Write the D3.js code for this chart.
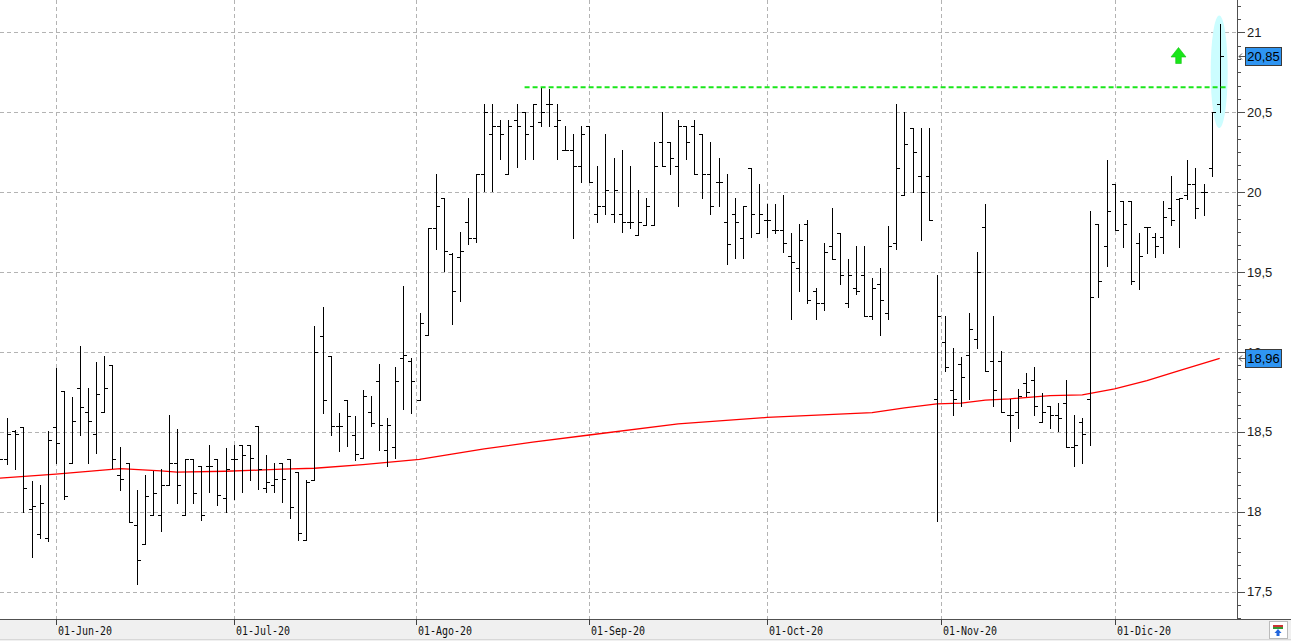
<!DOCTYPE html>
<html><head><meta charset="utf-8">
<script src="https://d3js.org/d3.v7.min.js"></script>
<style>html,body{margin:0;padding:0;background:#fff;overflow:hidden}</style>
</head><body>
<svg id="c" width="1291" height="641"></svg>
<script>
const dates = [
"2020-05-21","2020-05-22","2020-05-25","2020-05-26","2020-05-27","2020-05-28","2020-05-29",
"2020-06-01","2020-06-02","2020-06-03","2020-06-04","2020-06-05","2020-06-08","2020-06-09","2020-06-10","2020-06-11","2020-06-12",
"2020-06-15","2020-06-16","2020-06-17","2020-06-18","2020-06-19","2020-06-22","2020-06-23","2020-06-24","2020-06-25","2020-06-26","2020-06-29","2020-06-30",
"2020-07-01","2020-07-02","2020-07-03","2020-07-06","2020-07-07","2020-07-08","2020-07-09","2020-07-10","2020-07-13","2020-07-14","2020-07-15","2020-07-16","2020-07-17",
"2020-07-20","2020-07-21","2020-07-22","2020-07-23","2020-07-24","2020-07-27","2020-07-28","2020-07-29","2020-07-30","2020-07-31",
"2020-08-03","2020-08-04","2020-08-05","2020-08-06","2020-08-07","2020-08-10","2020-08-11","2020-08-12","2020-08-13","2020-08-14",
"2020-08-17","2020-08-18","2020-08-19","2020-08-20","2020-08-21","2020-08-24","2020-08-25","2020-08-26","2020-08-27","2020-08-28","2020-08-31",
"2020-09-01","2020-09-02","2020-09-03","2020-09-04","2020-09-07","2020-09-08","2020-09-09","2020-09-10","2020-09-11","2020-09-14","2020-09-15",
"2020-09-16","2020-09-17","2020-09-18","2020-09-21","2020-09-22","2020-09-23","2020-09-24","2020-09-25","2020-09-28","2020-09-29","2020-09-30",
"2020-10-01","2020-10-02","2020-10-05","2020-10-06","2020-10-07","2020-10-08","2020-10-09","2020-10-12","2020-10-13","2020-10-14","2020-10-15",
"2020-10-16","2020-10-19","2020-10-20","2020-10-21","2020-10-22","2020-10-23","2020-10-26","2020-10-27","2020-10-28","2020-10-29","2020-10-30",
"2020-11-02","2020-11-03","2020-11-04","2020-11-05","2020-11-06","2020-11-09","2020-11-10","2020-11-11","2020-11-12","2020-11-13",
"2020-11-16","2020-11-17","2020-11-18","2020-11-19","2020-11-20","2020-11-23","2020-11-24","2020-11-25","2020-11-26","2020-11-27","2020-11-30",
"2020-12-01","2020-12-02","2020-12-03","2020-12-04","2020-12-07","2020-12-08","2020-12-09","2020-12-10","2020-12-11","2020-12-14","2020-12-15",
"2020-12-16","2020-12-17","2020-12-18"];

const open = [18.40,18.33,18.506,18.53,18.017,17.86,17.835,
18.529,18.754,18.304,18.773,18.625,18.485,18.623,18.919,18.231,18.306,
17.919,17.798,17.977,17.981,18.167,18.304,17.977,18.328,18.287,18.287,18.328,18.084,
18.328,18.418,18.418,18.538,18.146,18.165,18.303,18.328,18.247,17.824,18.201,19.10,18.975,
18.536,18.699,18.48,18.333,18.621,18.821,18.383,18.404,18.959,18.943,
18.702,19.103,19.776,19.963,19.613,19.594,19.811,19.711,20.112,20.364,
20.414,20.112,20.452,20.50,20.4125,20.44,20.55,20.4125,20.2625,20.2625,20.1625,
20.4125,19.8625,19.9125,19.8625,19.8625,19.8125,19.731,19.794,19.794,20.315,20.315,
20.1625,20.4125,20.4125,20.365,20.1125,20.0625,19.8125,19.8625,19.7125,20.15,19.744,
19.825,19.7625,19.7625,19.602,19.525,19.80,19.381,19.306,19.6625,19.744,19.306,
19.40,19.481,19.223,19.425,19.244,19.681,19.98,20.40,20.10,20.10,18.706,
19.0625,18.7625,18.925,18.981,19.083,19.783,18.946,18.946,18.606,18.623,
18.808,18.827,18.5625,18.6625,18.604,18.679,18.406,18.56,18.706,19.80,19.661,
20.051,19.943,19.943,19.68,19.78,19.722,19.722,19.899,19.957,19.98,20.051,
19.999,20.151,20.549];

const high = [18.50,18.585,18.51,18.53,18.19,18.17,18.506,
18.902,18.756,18.719,19.0375,18.775,18.9375,18.975,18.919,18.406,18.306,
18.135,18.231,18.252,18.269,18.604,18.52,18.328,18.328,18.287,18.418,18.328,18.40,
18.418,18.418,18.418,18.538,18.356,18.303,18.303,18.328,18.247,18.199,19.159,19.278,18.975,
18.619,18.699,18.60,18.761,18.723,18.924,18.588,18.905,19.412,18.963,
19.243,19.776,20.114,19.963,19.621,19.75,19.963,20.112,20.552,20.552,
20.452,20.452,20.552,20.50,20.552,20.656,20.644,20.552,20.4125,20.365,20.4125,
20.4125,20.1625,20.365,20.2125,20.2625,20.1625,20.0125,19.9625,20.315,20.50,20.315,
20.45,20.4125,20.45,20.365,20.3125,20.2125,20.1125,19.9625,19.9125,20.15,20.05,
19.927,19.927,19.98,19.744,19.802,19.827,19.402,19.681,19.902,19.744,19.581,
19.665,19.665,19.4625,19.525,19.785,20.55,20.50,20.40,20.40,20.40,19.483,
19.227,19.027,18.965,19.246,19.627,19.927,19.227,19.006,18.706,18.765,
18.865,18.908,18.744,18.6625,18.679,18.825,18.606,18.587,19.882,19.80,20.201,
20.051,19.943,19.943,19.745,19.78,19.742,19.945,20.101,19.961,20.201,20.151,
20.051,20.50,21.05];

const low = [18.25,18.30,18.265,17.996,17.715,17.835,17.815,
18.302,18.079,18.304,18.483,18.302,18.365,18.623,18.271,18.135,17.933,
17.548,17.798,17.977,17.877,18.167,18.052,17.977,18.052,17.95,18.126,18.044,18.00,
18.079,18.126,18.199,18.144,18.126,18.126,18.063,17.962,17.824,17.824,18.201,18.615,18.477,
18.377,18.414,18.326,18.333,18.538,18.383,18.287,18.337,18.64,18.619,
18.702,19.103,19.646,19.508,19.176,19.32,19.673,19.69,20.009,20.009,
20.21,20.112,20.16,20.21,20.21,20.4125,20.4125,20.21,20.2625,19.7125,20.0625,
20.0625,19.8125,19.8625,19.8125,19.748,19.775,19.731,19.794,19.794,20.1625,20.1125,
19.9125,20.21,20.1125,19.96,19.86,19.91,19.55,19.59,19.59,19.72,19.744,
19.72,19.744,19.623,19.204,19.379,19.306,19.204,19.26,19.581,19.423,19.281,
19.36,19.223,19.204,19.104,19.204,19.644,19.98,20.00,19.698,19.825,17.94,
18.879,18.604,18.6625,18.706,19.025,18.879,18.6625,18.623,18.442,18.523,
18.727,18.604,18.5625,18.523,18.502,18.406,18.283,18.303,18.42,19.342,19.54,
19.761,19.659,19.423,19.396,19.621,19.596,19.621,19.797,19.659,19.959,19.84,
19.859,20.099,20.50];

const close = [18.33,18.485,18.485,18.148,18.037,18.054,18.45,
18.429,18.10,18.569,18.654,18.569,18.7375,18.773,18.331,18.206,17.933,
17.698,18.10,18.117,18.167,18.304,18.165,18.328,18.115,17.977,18.287,18.103,18.266,
18.328,18.356,18.335,18.266,18.186,18.205,18.205,18.027,17.864,18.186,19.00,18.699,18.536,
18.536,18.598,18.358,18.723,18.558,18.542,18.542,18.821,18.978,18.821,
19.179,19.776,19.911,19.629,19.381,19.629,19.711,20.112,20.50,20.414,
20.364,20.414,20.414,20.364,20.552,20.50,20.55,20.452,20.2625,20.1625,20.365,
20.0625,19.9125,20.0125,20.0125,19.8125,19.8125,19.8125,19.9125,20.1625,20.1625,20.2125,
20.4125,20.315,20.1125,20.1125,19.9125,20.0625,19.675,19.8125,19.9125,19.8625,19.8625,
19.825,19.7625,19.68,19.5625,19.70,19.325,19.306,19.625,19.581,19.481,19.481,
19.381,19.223,19.40,19.325,19.665,20.15,20.302,20.25,20.00,19.825,19.225,
18.908,18.706,18.846,19.144,19.50,18.879,18.7625,18.623,18.606,18.727,
18.746,18.6625,18.625,18.606,18.587,18.406,18.42,18.485,19.344,19.444,19.882,
19.761,19.80,19.444,19.60,19.78,19.661,19.843,19.824,19.961,20.051,19.899,
19.999,20.50,20.85];

// moving average (red line), sampled along the picture
const maDates = ["2020-05-21","2020-06-01","2020-06-11","2020-06-18","2020-06-22","2020-06-30","2020-07-06","2020-07-09",
"2020-07-15","2020-07-23","2020-08-03","2020-08-07","2020-08-13","2020-08-21","2020-09-01","2020-09-16","2020-10-01",
"2020-10-20","2020-10-26","2020-10-30","2020-11-04","2020-11-09","2020-11-12","2020-11-19","2020-11-25","2020-12-01",
"2020-12-07","2020-12-11","2020-12-18"];
const maValues = [18.21,18.235,18.27,18.256,18.248,18.253,18.26,18.266,
18.272,18.295,18.327,18.36,18.393,18.435,18.48,18.55,18.59,
18.62,18.65,18.675,18.68,18.698,18.706,18.727,18.731,18.768,
18.82,18.883,18.96];

const yTicks = [17.5,18,18.5,19,19.5,20,20.5,21];
const yTickLabels = ["17,5","18","18,5","19","19,5","20","20,5","21"];
const monthKeys = ["2020-06","2020-07","2020-08","2020-09","2020-10","2020-11","2020-12"];
const monthLabels = ["01-Jun-20","01-Jul-20","01-Ago-20","01-Sep-20","01-Oct-20","01-Nov-20","01-Dic-20"];
const resistanceLevel = 20.656;
const resistanceStart = "2020-08-20";
const priceTags = [20.85, 18.96];
const priceTagLabels = ["20,85","18,96"];

const W = 1291, H = 641, plotR = 1237, plotB = 619;
const svg = d3.select("#c");
const x = d3.scalePoint().domain(dates).range([-0.78, 1219.7]);
const y = d3.scaleLinear().domain([17.5, 21]).range([591.6, 32.3]);
const px = v => Math.round(v) + 0.5;

svg.append("rect").attr("width", W).attr("height", H).attr("fill", "#fff");
svg.append("defs").append("clipPath").attr("id", "plot")
  .append("rect").attr("x", 0).attr("y", 0).attr("width", plotR).attr("height", plotB);

// month tick positions
const monthX = monthKeys.map(k => {
  const i = dates.findIndex(d => d.startsWith(k));
  const d = dates[i];
  if (d.endsWith("-01")) return x(d);
  return x(d) - 4;
});

// grid
const grid = svg.append("g").attr("stroke", "#b3b3b3").attr("stroke-dasharray", "4,3").attr("shape-rendering", "crispEdges");
yTicks.forEach(t => grid.append("line").attr("x1", 0).attr("x2", plotR).attr("y1", px(y(t))).attr("y2", px(y(t))));
monthX.forEach(mx => grid.append("line").attr("x1", px(mx)).attr("x2", px(mx)).attr("y1", 0).attr("y2", plotB));

const plot = svg.append("g").attr("clip-path", "url(#plot)");

// highlight ellipse around last bar
const lastD = dates[dates.length - 1];
plot.append("ellipse").attr("cx", x(lastD) - 0.5).attr("cy", y(20.753)).attr("rx", 8.5).attr("ry", 56.3).attr("fill", "#ccfdff");

// moving average
const ma = maDates.map((d, i) => [x(d), y(maValues[i])]);
plot.append("path").attr("d", d3.line()(ma)).attr("fill", "none").attr("stroke", "#ff0000").attr("stroke-width", 1.3);

// OHLC bars
const bars = plot.append("g").attr("stroke", "#000").attr("stroke-width", 1).attr("shape-rendering", "crispEdges");
dates.forEach((d, i) => {
  const cx = Math.round(x(d)) + 0.5;
  bars.append("line").attr("x1", cx).attr("x2", cx).attr("y1", Math.round(y(high[i]))).attr("y2", Math.round(y(low[i])) + 1);
  bars.append("line").attr("x1", cx - 3.5).attr("x2", cx).attr("y1", px(y(open[i]))).attr("y2", px(y(open[i])));
  bars.append("line").attr("x1", cx).attr("x2", cx + 3.5).attr("y1", px(y(close[i]))).attr("y2", px(y(close[i])));
});

// resistance line
plot.append("line").attr("x1", x(resistanceStart)).attr("x2", x(lastD) + 6.5)
  .attr("y1", y(resistanceLevel)).attr("y2", y(resistanceLevel))
  .attr("stroke", "#1be61b").attr("stroke-width", 2).attr("stroke-dasharray", "5,3");

// green up arrow
const ax = 1178.5, ay = 47.5;
svg.append("path").attr("d", `M${ax},${ay} L${ax+7.5},${ay+9.5} L${ax+2.8},${ay+9.5} L${ax+2.8},${ay+16} L${ax-2.8},${ay+16} L${ax-2.8},${ay+9.5} L${ax-7.5},${ay+9.5} Z`)
  .attr("fill", "#19e619").attr("stroke", "#13c413").attr("stroke-width", 0.6);

// bottom axis strip
svg.append("rect").attr("x", 0).attr("y", plotB).attr("width", W).attr("height", H - plotB).attr("fill", "#f0f0f0");
svg.append("line").attr("x1", 0).attr("x2", W).attr("y1", plotB + 0.5).attr("y2", plotB + 0.5).attr("stroke", "#505050").attr("shape-rendering", "crispEdges");
svg.append("line").attr("x1", 0).attr("x2", W).attr("y1", H - 1.5).attr("y2", H - 1.5).attr("stroke", "#d8d8d8").attr("shape-rendering", "crispEdges");
const xa = svg.append("g");
monthX.forEach((mx, i) => {
  xa.append("line").attr("x1", px(mx)).attr("x2", px(mx)).attr("y1", plotB).attr("y2", plotB + 6).attr("stroke", "#404040").attr("shape-rendering", "crispEdges");
  xa.append("text").attr("x", Math.round(mx) + 2).attr("y", 634.5).text(monthLabels[i])
    .attr("font-family", "DejaVu Sans Mono, monospace").attr("font-size", 12.5).attr("fill", "#111")
    .attr("textLength", 54).attr("lengthAdjust", "spacingAndGlyphs");
});

// right axis
const ra = svg.append("g").attr("shape-rendering", "crispEdges");
ra.append("line").attr("x1", plotR + 0.5).attr("x2", plotR + 0.5).attr("y1", 0).attr("y2", plotB).attr("stroke", "#505050");
d3.range(-3, 46).forEach(k => {
  const v = 17.5 + k / 12;
  const yy = y(v);
  if (yy < 0 || yy > plotB) return;
  const major = k % 6 === 0;
  ra.append("line").attr("x1", plotR).attr("x2", plotR + (major ? 8 : 4)).attr("y1", px(yy)).attr("y2", px(yy)).attr("stroke", "#505050");
});
yTicks.forEach((t, i) => {
  svg.append("text").attr("x", 1247).attr("y", y(t) + 4.6).text(yTickLabels[i])
    .attr("font-family", "Liberation Sans, Arial, sans-serif").attr("font-size", 13).attr("fill", "#1a1a1a");
});

// price tags
priceTags.forEach((p, i) => {
  const yy = Math.round(y(p));
  const g = svg.append("g");
  g.append("path").attr("d", `M${plotR + 2},${yy + 0.5} L${plotR + 8},${yy + 0.5} M${plotR + 2},${yy + 0.5} L${plotR + 5},${yy - 2.5} M${plotR + 2},${yy + 0.5} L${plotR + 5},${yy + 3.5}`)
    .attr("stroke", "#555").attr("fill", "none").attr("stroke-width", 1);
  g.append("rect").attr("x", 1245.5).attr("y", yy - 8.5).attr("width", 36).attr("height", 18)
    .attr("fill", "#2f95f2").attr("stroke", "#3a3a3a").attr("stroke-width", 1).attr("shape-rendering", "crispEdges");
  g.append("text").attr("x", 1263.5).attr("y", yy + 5).attr("text-anchor", "middle").text(priceTagLabels[i])
    .attr("font-family", "Liberation Sans, Arial, sans-serif").attr("font-size", 13).attr("fill", "#000");
});

// small icon bottom right
const ic = svg.append("g").attr("transform", "translate(1269,621)");
ic.append("rect").attr("x", 0.5).attr("y", 0.5).attr("width", 18).attr("height", 17).attr("fill", "#fff").attr("stroke", "#bbb");
ic.append("rect").attr("x", 4).attr("y", 4).attr("width", 10).attr("height", 2).attr("fill", "#cc3333");
ic.append("rect").attr("x", 4).attr("y", 6).attr("width", 10).attr("height", 2).attr("fill", "#339933");
ic.append("path").attr("d", "M9,8 L12.5,12 L10.5,12 L10.5,15 L7.5,15 L7.5,12 L5.5,12 Z").attr("fill", "#2266dd");
</script>
</body></html>
